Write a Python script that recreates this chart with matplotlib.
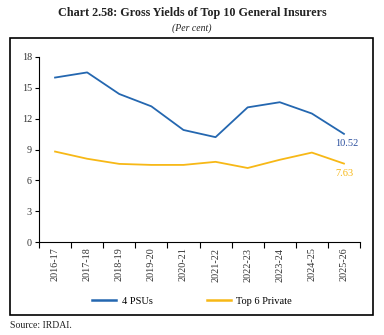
import numpy as np
import matplotlib
matplotlib.use('Agg')
import matplotlib.pyplot as plt
from matplotlib.patches import Rectangle
from matplotlib.lines import Line2D

plt.rcParams['font.family'] = ['Liberation Serif', 'DejaVu Serif']

years = ['2016-17', '2017-18', '2018-19', '2019-20', '2020-21',
         '2021-22', '2022-23', '2023-24', '2024-25', '2025-26']
psu = [16.0, 16.5, 14.4, 13.2, 10.9, 10.2, 13.1, 13.6, 12.5, 10.52]
private = [8.8, 8.1, 7.6, 7.5, 7.5, 7.8, 7.2, 8.0, 8.7, 7.63]
yticks = [0, 3, 6, 9, 12, 15, 18]

blue = '#2467b0'
gold = '#f7b816'
txt = '#333333'

fig = plt.figure(figsize=(3.84, 3.35), dpi=100)

# outer frame round the chart
fig.patches.append(Rectangle((10/384, 1 - 315/335), 363/384, 277/335,
                             transform=fig.transFigure, fill=False,
                             edgecolor='black', linewidth=1.2))

fig.text(0.5, 1 - 13/335, 'Chart 2.58: Gross Yields of Top 10 General Insurers',
         ha='center', va='center', fontsize=8.7, fontweight='bold', color='#222222')
fig.text(0.5, 1 - 28/335, '(Per cent)', ha='center', va='center',
         fontsize=7, style='italic', color='#222222')

ax = fig.add_axes([39/384, 1 - 242/335, (360 - 39)/384, (242 - 57)/335])
x = np.arange(len(years))
ax.plot(x, psu, color=blue, linewidth=1.3)
ax.plot(x, private, color=gold, linewidth=1.3)

ax.set_xlim(-0.5, len(years) - 0.5)
ax.set_ylim(0, 18)
ax.set_yticks(yticks)
ax.set_yticklabels([str(v) for v in yticks], fontsize=7.3, color=txt)

# ticks on the category boundaries, labels in the middle
ax.set_xticks(np.arange(len(years) + 1) - 0.5)
ax.set_xticklabels([])
ax.set_xticks(x, minor=True)
ax.set_xticklabels(years, minor=True, rotation=90, fontsize=7.3, color=txt)
ax.tick_params(axis='x', which='minor', length=0, pad=4)
ax.tick_params(axis='x', which='major', length=4, width=0.8)
ax.tick_params(axis='y', length=3, width=0.8, pad=2)

for s in ['top', 'right']:
    ax.spines[s].set_visible(False)
for s in ['left', 'bottom']:
    ax.spines[s].set_linewidth(0.8)

ax.annotate(f'{psu[-1]:.2f}', (x[-1], psu[-1]), xytext=(-6, -9),
            textcoords='offset points', fontsize=7.5, color='#2b4f9e')
ax.annotate(f'{private[-1]:.2f}', (x[-1], private[-1]), xytext=(-6, -9),
            textcoords='offset points', fontsize=7.5, color=gold)

handles = [Line2D([], [], color=blue, linewidth=1.8, label='4 PSUs'),
           Line2D([], [], color=gold, linewidth=1.8, label='Top 6 Private')]
fig.legend(handles=handles, loc='center', bbox_to_anchor=(0.5, 1 - 301/335),
           ncol=2, frameon=False, fontsize=7.5, handlelength=2.3,
           columnspacing=5.2, handletextpad=0.5)

fig.text(10/384, 1 - 325/335, 'Source: IRDAI.', ha='left', va='center',
         fontsize=7, color='#222222')

fig.savefig('out.png', dpi=100)
